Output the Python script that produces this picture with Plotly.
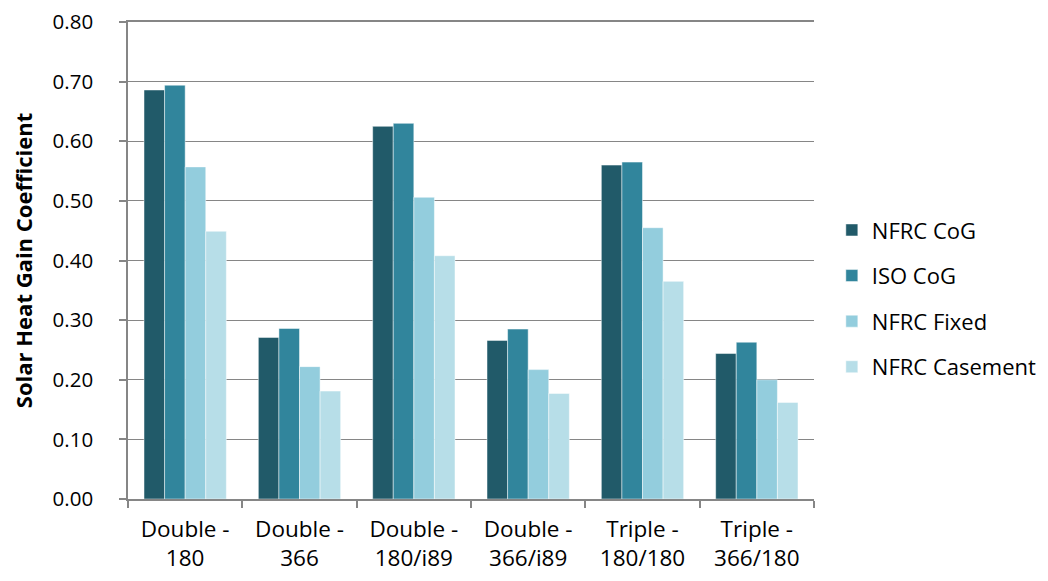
import plotly.graph_objects as go

categories = ["Double -<br>180", "Double -<br>366", "Double -<br>180/i89",
              "Double -<br>366/i89", "Triple -<br>180/180", "Triple -<br>366/180"]
nfrc_cog = [0.686, 0.271, 0.625, 0.266, 0.560, 0.244]
iso_cog = [0.694, 0.286, 0.630, 0.285, 0.565, 0.263]
nfrc_fixed = [0.557, 0.222, 0.506, 0.217, 0.455, 0.200]
nfrc_casement = [0.449, 0.181, 0.408, 0.177, 0.365, 0.162]
y_ticks = [0.0, 0.1, 0.2, 0.3, 0.4, 0.5, 0.6, 0.7, 0.8]

series = [
    ("NFRC CoG", nfrc_cog, "#215A69"),
    ("ISO CoG", iso_cog, "#31859C"),
    ("NFRC Fixed", nfrc_fixed, "#93CDDD"),
    ("NFRC Casement", nfrc_casement, "#B7DEE8"),
]

font_family = "Open Sans, sans-serif"

fig = go.Figure()
for name, vals, color in series:
    fig.add_trace(go.Bar(
        x=categories, y=vals, name=name, legendgroup=name,
        marker=dict(color=color, line=dict(color="rgba(255,255,255,0.6)", width=0.8)),
    ))

fig.update_layout(
    width=1032, height=565,
    margin=dict(l=120, r=226, t=14, b=74, autoexpand=False),
    paper_bgcolor="white", plot_bgcolor="white",
    barmode="group", bargap=0.28, bargroupgap=0,
    font=dict(family=font_family, size=22.5, color="black"),
    showlegend=True,
    legend=dict(x=1.026, y=0.42, xanchor="left", yanchor="middle",
                font=dict(size=22, family=font_family), tracegroupgap=14,
                traceorder="grouped", itemwidth=30),
)
fig.update_xaxes(
    automargin=False,
    showline=True, linecolor="#868686", linewidth=1.5, mirror=True,
    ticks="outside", tickson="boundaries", ticklen=7, tickcolor="#868686", tickwidth=1.5,
    tickfont=dict(size=22.5, family=font_family), ticklabelstandoff=9,
    showgrid=False,
)
fig.update_yaxes(
    automargin=False,
    range=[0, 0.8], tickmode="array", tickvals=y_ticks, tickformat=".2f",
    ticklabeloverflow="allow",
    showline=True, linecolor="#868686", linewidth=1.5,
    ticks="outside", ticklen=7, tickcolor="#868686", tickwidth=1.5,
    showgrid=True, gridcolor="#868686", gridwidth=1.2,
    tickfont=dict(size=20.5, family=font_family), ticklabelstandoff=22,
    title=dict(text="<b>Solar Heat Gain Coefficient</b>", font=dict(size=22, family=font_family), standoff=23),
    zeroline=False,
)

fig.write_html("out.html")
